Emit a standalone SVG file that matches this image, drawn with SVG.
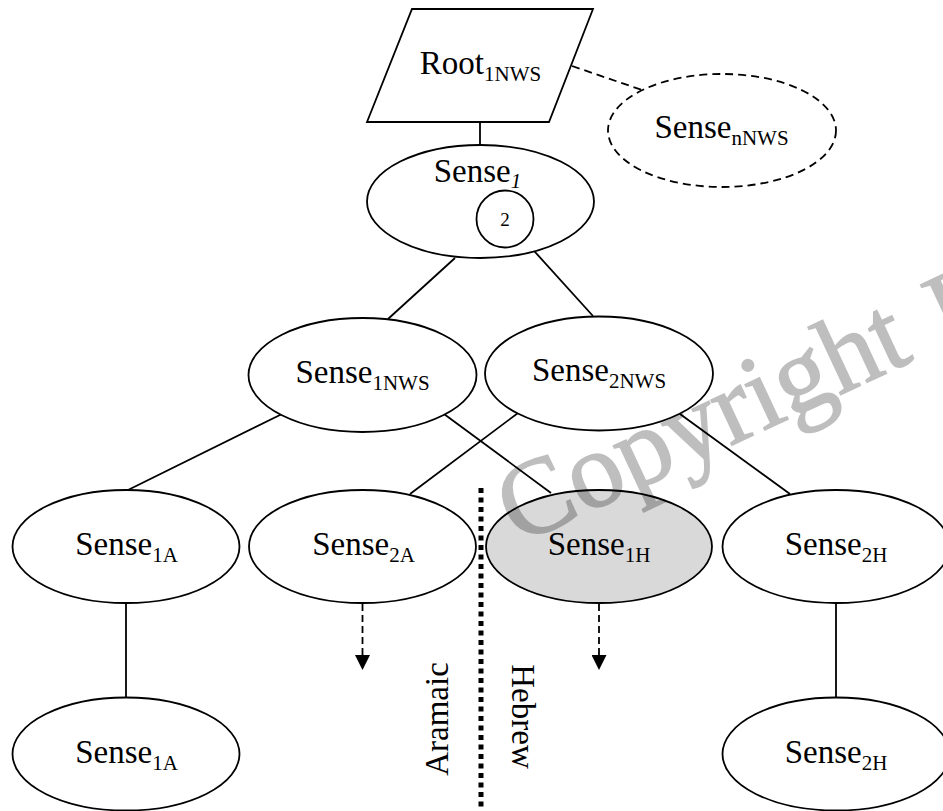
<svg xmlns="http://www.w3.org/2000/svg" width="943" height="811" viewBox="0 0 943 811">
<style>
  .node { fill: #ffffff; stroke: #000000; stroke-width: 1.8; }
  .hl { fill: #d9d9d9; }
  .dash { fill: none; stroke-dasharray: 8 5; }
  .lbl { font-family: "Liberation Serif", "Times New Roman", serif; font-size: 33px; fill: #000; text-anchor: middle; }
  .sub { font-size: 21px; }
  .num { font-size: 19px; }
  .edge { stroke: #000; stroke-width: 1.8; fill: none; }
  .dedge { stroke: #000; stroke-width: 1.8; fill: none; stroke-dasharray: 7 4; }
  .wm { font-family: "Liberation Serif", "Times New Roman", serif; font-size: 108px; fill: #000; stroke: #000; stroke-width: 1.6; }
</style>
<defs>
  <marker id="arr" markerWidth="15" markerHeight="15" refX="15" refY="7.5" orient="auto" markerUnits="userSpaceOnUse">
    <path d="M0,0 L15,7.5 L0,15 Z" fill="#000"/>
  </marker>
</defs>
<rect width="943" height="811" fill="#ffffff"/>

<g id="connectors">
  <line class="edge" x1="480" y1="122" x2="480" y2="145"/>
  <line class="edge" x1="572" y1="66" x2="642" y2="90" stroke-dasharray="8 5"/>
  <line class="edge" x1="455" y1="258" x2="388" y2="319"/>
  <line class="edge" x1="526" y1="242" x2="593" y2="316"/>
  <line class="edge" x1="282" y1="414" x2="128" y2="490"/>
  <line class="edge" x1="444" y1="414" x2="551" y2="493"/>
  <line class="edge" x1="518" y1="413" x2="410" y2="494"/>
  <line class="edge" x1="680" y1="414" x2="790" y2="494"/>
  <line class="edge" x1="126" y1="603" x2="126" y2="698"/>
  <line class="edge" x1="836" y1="603" x2="836" y2="698"/>
  <line class="dedge" x1="362.5" y1="604" x2="362.5" y2="670" marker-end="url(#arr)"/>
  <line class="dedge" x1="599" y1="604" x2="599" y2="670" marker-end="url(#arr)"/>
</g>

<g id="divider">
  <line x1="481" y1="488" x2="481" y2="811" stroke="#000" stroke-width="5" stroke-dasharray="5 4.5"/>
  <text class="lbl" transform="translate(448,719) rotate(-90)">Aramaic</text>
  <text class="lbl" transform="translate(512,716.5) rotate(90)">Hebrew</text>
</g>

<g id="root">
  <polygon class="node" points="412,9 593,9 549,122 367,122"/>
  <text class="lbl" x="480.5" y="74">Root<tspan class="sub" dy="7">1NWS</tspan></text>
</g>

<g id="senseN">
  <ellipse class="node dash" cx="722" cy="130.5" rx="114" ry="56.5"/>
  <text class="lbl" x="721.5" y="138">Sense<tspan class="sub" dy="7">nNWS</tspan></text>
</g>

<g id="sense1">
  <ellipse class="node" cx="480.5" cy="201.5" rx="113.5" ry="56.5"/>
  <text class="lbl" x="477.5" y="182">Sense<tspan class="sub" dy="6" font-style="italic">1</tspan></text>
  <circle class="node" cx="505" cy="219" r="28.5"/>
  <text class="lbl num" x="505" y="226">2</text>
</g>

<g id="sense1NWS">
  <ellipse class="node" cx="362.5" cy="375" rx="114" ry="57"/>
  <text class="lbl" x="362.5" y="383">Sense<tspan class="sub" dy="7">1NWS</tspan></text>
</g>

<g id="sense2NWS">
  <ellipse class="node" cx="599" cy="373.5" rx="114" ry="57"/>
  <text class="lbl" x="599" y="381">Sense<tspan class="sub" dy="7">2NWS</tspan></text>
</g>

<g id="sense1A">
  <ellipse class="node" cx="126" cy="546.5" rx="113.5" ry="56.5"/>
  <text class="lbl" x="126.5" y="555">Sense<tspan class="sub" dy="7">1A</tspan></text>
</g>

<g id="sense2A">
  <ellipse class="node" cx="362.5" cy="546.5" rx="113.5" ry="56.5"/>
  <text class="lbl" x="363.5" y="555">Sense<tspan class="sub" dy="7">2A</tspan></text>
</g>

<g id="sense1H">
  <ellipse class="node hl" cx="599" cy="546.5" rx="113" ry="56.5"/>
  <text class="lbl" x="599" y="555">Sense<tspan class="sub" dy="7">1H</tspan></text>
</g>

<g id="sense2H">
  <ellipse class="node" cx="836" cy="546.5" rx="113.5" ry="56.5"/>
  <text class="lbl" x="836" y="555">Sense<tspan class="sub" dy="7">2H</tspan></text>
</g>

<g id="sense1A-b">
  <ellipse class="node" cx="126" cy="754" rx="113.5" ry="56.5"/>
  <text class="lbl" x="126.5" y="763">Sense<tspan class="sub" dy="7">1A</tspan></text>
</g>

<g id="sense2H-b">
  <ellipse class="node" cx="836" cy="754" rx="113.5" ry="56.5"/>
  <text class="lbl" x="836" y="763">Sense<tspan class="sub" dy="7">2H</tspan></text>
</g>

<g id="watermark" opacity="0.25">
  <text class="wm" transform="translate(518,545) rotate(-25)">Copyright<tspan dx="33" dy="5">I</tspan></text>
</g>
</svg>
